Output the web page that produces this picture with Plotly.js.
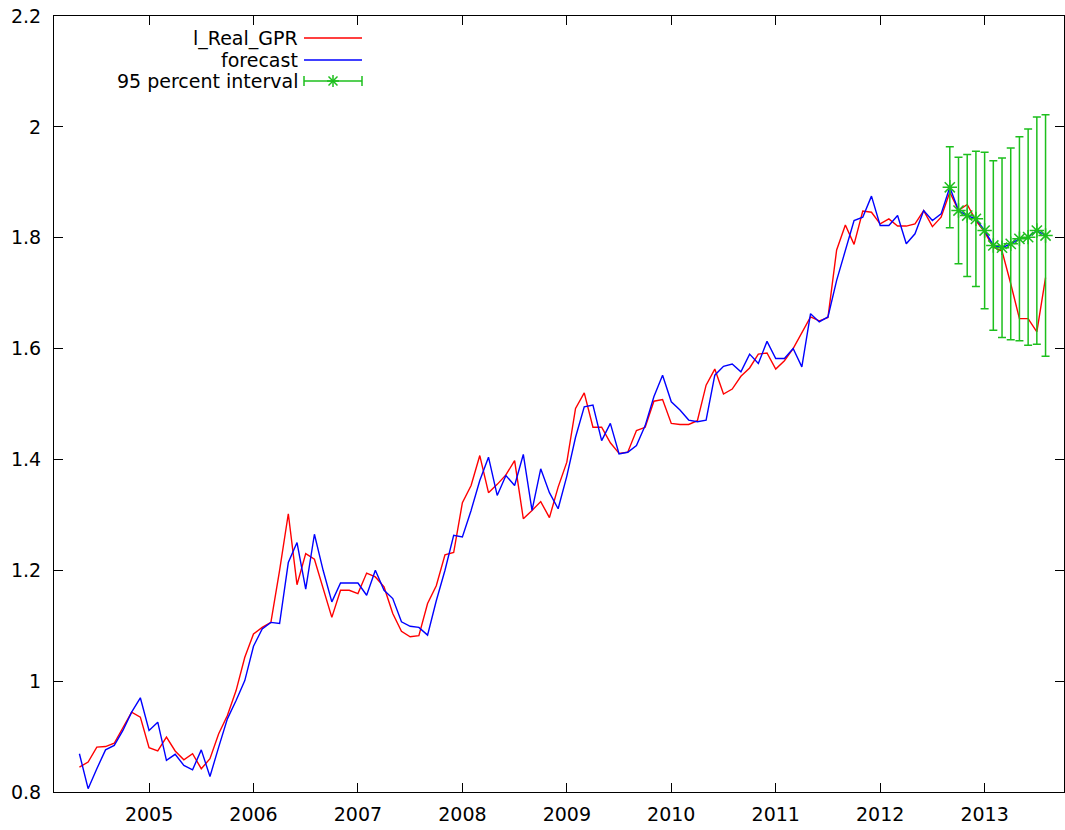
<!DOCTYPE html>
<html>
<head>
<meta charset="utf-8">
<script src="https://cdn.plot.ly/plotly-3.0.1.min.js"></script>
<style>html,body{margin:0;padding:0;background:#fff;}#chart{width:1065px;height:830px;}</style>
</head>
<body>
<div id="chart"></div>
<script>
// ---- data (monthly, starting May 2004) ----
const startYear = 2004;
const startMonth = 5;

const actual = [
  0.845, 0.854, 0.881, 0.882, 0.888, 0.917, 0.944, 0.935, 0.880, 0.874,
  0.899, 0.874, 0.858, 0.869, 0.842, 0.860, 0.905, 0.938, 0.983, 1.043,
  1.085, 1.097, 1.106, 1.200, 1.302, 1.174, 1.230, 1.220, 1.166, 1.115,
  1.164, 1.164, 1.158, 1.195, 1.188, 1.170, 1.122, 1.090, 1.080, 1.082,
  1.140, 1.172, 1.228, 1.232, 1.322, 1.353, 1.407, 1.340, 1.355, 1.372,
  1.398, 1.293, 1.308, 1.324, 1.295, 1.350, 1.395, 1.492, 1.520, 1.458,
  1.458, 1.430, 1.411, 1.413, 1.452, 1.458, 1.505, 1.508, 1.465, 1.463,
  1.463, 1.470, 1.534, 1.563, 1.518, 1.527, 1.550, 1.565, 1.590, 1.592,
  1.563, 1.578, 1.600, 1.628, 1.657, 1.650, 1.656, 1.778, 1.823, 1.788,
  1.848, 1.846, 1.825, 1.834, 1.821, 1.821, 1.825, 1.849, 1.820, 1.837,
  1.882, 1.849, 1.860, 1.831, 1.810, 1.783, 1.776, 1.717, 1.654, 1.654,
  1.630, 1.728
];

const fitted = [
  0.869, 0.806, 0.842, 0.876, 0.884, 0.911, 0.944, 0.970, 0.911, 0.926,
  0.857, 0.868, 0.848, 0.840, 0.876, 0.828, 0.881, 0.932, 0.965, 1.001,
  1.063, 1.094, 1.106, 1.104, 1.214, 1.250, 1.166, 1.265, 1.200, 1.143,
  1.177, 1.177, 1.177, 1.155, 1.200, 1.164, 1.149, 1.107, 1.099, 1.097,
  1.083, 1.145, 1.200, 1.263, 1.260, 1.308, 1.362, 1.404, 1.335, 1.371,
  1.353, 1.409, 1.308, 1.383, 1.340, 1.311, 1.370, 1.440, 1.495, 1.498,
  1.434, 1.465, 1.410, 1.413, 1.425, 1.461, 1.513, 1.552, 1.504, 1.489,
  1.471, 1.468, 1.471, 1.552, 1.568, 1.572, 1.558, 1.590, 1.573, 1.613,
  1.582, 1.582, 1.600, 1.567, 1.663, 1.648, 1.657, 1.723, 1.777, 1.831,
  1.837, 1.875, 1.822, 1.822, 1.840, 1.789, 1.807, 1.849, 1.831, 1.843
];

const forecastOut = [1.891, 1.849, 1.840, 1.834, 1.813, 1.786, 1.782, 1.789, 1.798, 1.801, 1.813, 1.804];
const lower95 =     [1.818, 1.753, 1.730, 1.712, 1.672, 1.633, 1.620, 1.616, 1.614, 1.606, 1.608, 1.586];
const upper95 =     [1.964, 1.945, 1.950, 1.956, 1.954, 1.939, 1.944, 1.962, 1.982, 1.996, 2.018, 2.022];

const yearTicks = [2005, 2006, 2007, 2008, 2009, 2010, 2011, 2012, 2013];
const yTickVals = [0.8, 1.0, 1.2, 1.4, 1.6, 1.8, 2.0, 2.2];
const yTickText = ['0.8', '1', '1.2', '1.4', '1.6', '1.8', '2', '2.2'];

const seriesNames = ['l_Real_GPR', 'forecast', '95 percent interval'];

// ---- build ----
const t = actual.map((_, i) => startYear + (startMonth - 1 + i) / 12);
const forecastAll = fitted.concat(forecastOut);
const tOut = t.slice(fitted.length, fitted.length + forecastOut.length);

const RED = '#ff0000', BLUE = '#0000ff', GREEN = '#1dbf1d';
const FONT = 'DejaVu Sans, sans-serif';

const traces = [
  {x: t, y: actual, type: 'scatter', mode: 'lines', name: seriesNames[0],
   line: {color: RED, width: 1.4}},
  {x: t.slice(0, forecastAll.length), y: forecastAll, type: 'scatter', mode: 'lines', name: seriesNames[1],
   line: {color: BLUE, width: 1.4}},
  {x: tOut, y: forecastOut, type: 'scatter', mode: 'markers', name: seriesNames[2],
   marker: {symbol: 'asterisk-open', size: 12, color: GREEN, line: {color: GREEN, width: 1.5}},
   error_y: {type: 'data', symmetric: false,
             array: upper95.map((u, i) => u - forecastOut[i]),
             arrayminus: lower95.map((l, i) => forecastOut[i] - l),
             color: GREEN, thickness: 1.5, width: 4}}
];

// plot area geometry (pixels) for legend placement
const W = 1065, H = 830, ML = 54, MR = 1, MT = 16, MB = 38;
const PW = W - ML - MR, PH = H - MT - MB;
const px = x => (x - ML) / PW;
const py = y => 1 - (y - MT) / PH;

const legRows = [38, 60, 81];
const legTextRight = 300, legX0 = 304, legX1 = 362, starX = 333;

const annotations = seriesNames.map((n, k) => ({
  text: n, xref: 'paper', yref: 'paper', x: px(legTextRight), y: py(legRows[k]),
  xanchor: 'right', yanchor: 'middle', showarrow: false,
  font: {family: FONT, size: 19, color: '#000'}
}));

const shapes = [];
const seg = (x0, y0, x1, y1, color, w) => shapes.push({type: 'line', xref: 'paper', yref: 'paper',
  x0: px(x0), y0: py(y0), x1: px(x1), y1: py(y1), line: {color: color, width: w}});
seg(legX0, legRows[0], legX1, legRows[0], RED, 1.4);
seg(legX0, legRows[1], legX1, legRows[1], BLUE, 1.4);
const gy = legRows[2];
seg(legX0, gy, legX1, gy, GREEN, 1.5);
seg(legX0, gy - 5, legX0, gy + 5, GREEN, 1.5);
seg(legX1, gy - 5, legX1, gy + 5, GREEN, 1.5);
seg(starX - 6, gy, starX + 6, gy, GREEN, 1.5);
seg(starX, gy - 6, starX, gy + 6, GREEN, 1.5);
seg(starX - 4.5, gy - 4.5, starX + 4.5, gy + 4.5, GREEN, 1.5);
seg(starX - 4.5, gy + 4.5, starX + 4.5, gy - 4.5, GREEN, 1.5);

const axisCommon = {
  showline: true, linecolor: '#000', linewidth: 1, mirror: 'allticks',
  ticks: 'inside', ticklen: 9, tickwidth: 1, tickcolor: '#000',
  showgrid: false, zeroline: false,
  tickfont: {family: FONT, size: 19, color: '#000'}
};

const layout = {
  width: W, height: H,
  margin: {l: ML, r: MR, t: MT, b: MB, pad: 0},
  paper_bgcolor: '#fff', plot_bgcolor: '#fff',
  showlegend: false,
  xaxis: Object.assign({}, axisCommon, {
    range: [2004.09, 2013.76], tickmode: 'array', tickvals: yearTicks,
    ticktext: yearTicks.map(String), ticklabelstandoff: 5
  }),
  yaxis: Object.assign({}, axisCommon, {
    range: [0.8, 2.2], tickmode: 'array', tickvals: yTickVals, ticktext: yTickText,
    ticklabelstandoff: 8
  }),
  annotations: annotations,
  shapes: shapes
};

Plotly.newPlot('chart', traces, layout, {displayModeBar: false, staticPlot: true});
</script>
</body>
</html>
